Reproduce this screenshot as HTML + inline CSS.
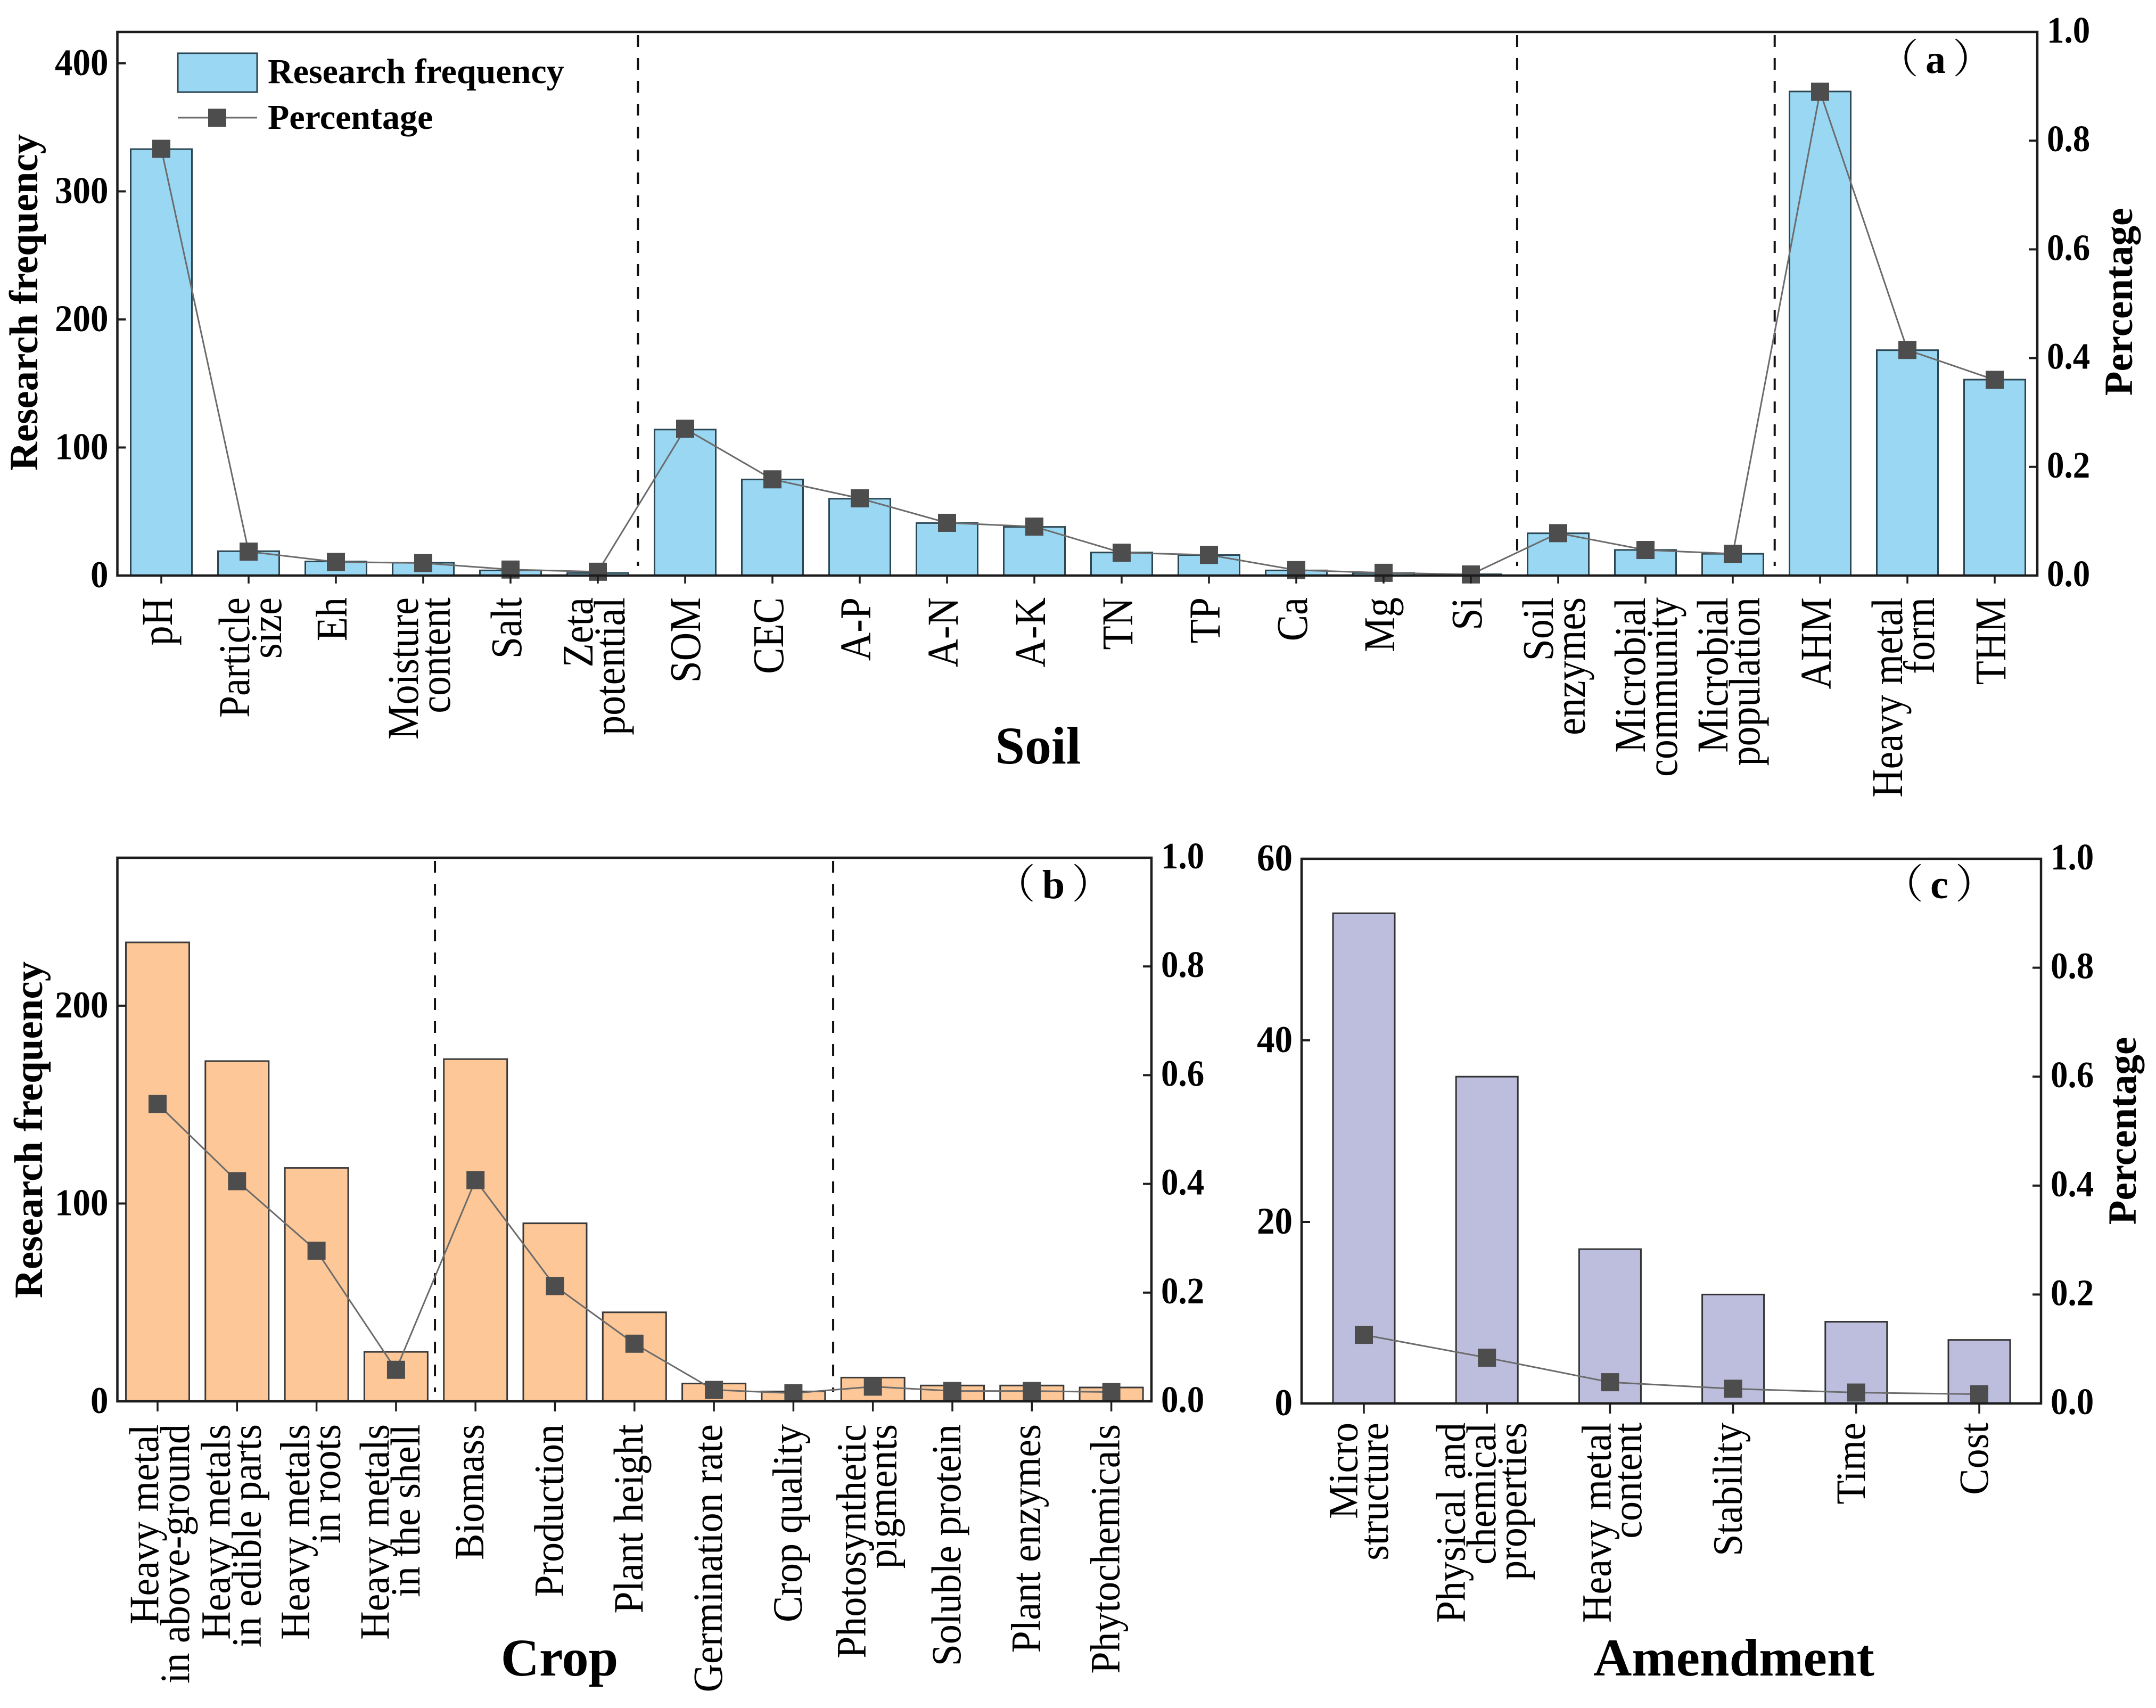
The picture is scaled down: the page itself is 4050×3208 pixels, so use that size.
<!DOCTYPE html>
<html lang="en">
<head>
<meta charset="utf-8">
<title>Research frequency and percentage for soil, crop and amendment</title>
<style>
html,body{margin:0;padding:0;background:#fff;}
svg{display:block;}
text{font-family:"Liberation Serif","Noto Serif CJK SC",serif;fill:#000;}
</style>
</head>
<body>
<svg id="chart" xmlns="http://www.w3.org/2000/svg" width="4050" height="3208" viewBox="0 0 4050 3208"></svg>
<script>
/* ---------- data ---------- */
const soilCategories = ["pH","Particle\nsize","Eh","Moisture\ncontent","Salt","Zeta\npotential","SOM","CEC","A-P","A-N","A-K","TN","TP","Ca","Mg","Si","Soil\nenzymes","Microbial\ncommunity","Microbial\npopulation","AHM","Heavy metal\nform","THM"];
const soilFrequency = [333,19,11,10,4,2,114,75,60,41,38,18,16,4,2,1,33,20,17,378,176,153];
const soilPercentage = [0.785,0.044,0.025,0.023,0.011,0.007,0.27,0.177,0.142,0.097,0.09,0.042,0.038,0.01,0.005,0.002,0.078,0.047,0.04,0.89,0.415,0.36];
const soilLeftTicks = [0,100,200,300,400];
const soilBreaks = [5.46,15.53,18.48];

const cropCategories = ["Heavy metal\nin above-ground","Heavy metals\nin edible parts","Heavy metals\nin roots","Heavy metals\nin the shell","Biomass","Production","Plant height","Germination rate","Crop quality","Photosynthetic\npigments","Soluble protein","Plant enzymes","Phytochemicals"];
const cropFrequency = [232,172,118,25,173,90,45,9,5,12,8,8,7];
const cropPercentage = [0.547,0.405,0.277,0.058,0.407,0.212,0.106,0.021,0.015,0.027,0.019,0.019,0.017];
const cropLeftTicks = [0,100,200];
const cropBreaks = [3.49,8.5];

const amendmentCategories = ["Micro\nstructure","Physical and\nchemical\nproperties","Heavy metal\ncontent","Stability","Time","Cost"];
const amendmentFrequency = [54,36,17,12,9,7];
const amendmentPercentage = [0.126,0.084,0.039,0.027,0.02,0.017];
const amendmentLeftTicks = [0,20,40,60];
const amendmentBreaks = [];

const percentageTicks = [0,0.2,0.4,0.6,0.8,1.0];

/* ---------- helpers ---------- */
/* hand-placed label offsets seen in the figure (layout, not data) */
const labelNudge = {
  "Particle\nsize": 11,
  "SOM": 8,
  "Microbial\ncommunity": 9,
  "Heavy metal\nin above-ground": 15,
  "Heavy metal\ncontent": 14
};
const svg = document.getElementById('chart');
const NS = 'http://www.w3.org/2000/svg';
function mk(tag, attrs, parent) {
  const el = document.createElementNS(NS, tag);
  for (const k in attrs) el.setAttribute(k, attrs[k]);
  parent.appendChild(el);
  return el;
}
function slug(s) {
  return s.toLowerCase().replace(/[^a-z0-9]+/g, '-').replace(/^-|-$/g, '');
}
const INK = '#1c1c1c';
const MARK = '#4d4d4d';
const LINE = '#6b6b6b';

function drawPanel(p) {
  const g = mk('g', {}, svg);
  
  

  const xPos = i => p.x0 + p.step * i;
  const yLeft = v => p.bottom - (v / p.leftMax) * (p.bottom - p.top);
  const yRight = v => p.bottom - v * (p.bottom - p.top);

  /* bars */
  p.freq.forEach((v, i) => {
    const bar = mk('rect', {
      x: xPos(i) - p.barW / 2, y: yLeft(v), width: p.barW, height: p.bottom - yLeft(v),
      fill: p.fill, stroke: p.barStroke, 'stroke-width': 3
    }, g);
    
    
  });

  /* group dividers */
  p.breaks.forEach(b => {
    const d = mk('line', {
      x1: xPos(b), x2: xPos(b), y1: p.top + 6, y2: p.bottom - 18,
      stroke: '#111', 'stroke-width': 4, 'stroke-dasharray': '22 21'
    }, g);
    
    
  });

  /* percentage line */
  const pts = p.pct.map((v, i) => xPos(i) + ',' + yRight(v)).join(' ');
  const ln = mk('polyline', {points: pts, fill: 'none', stroke: LINE, 'stroke-width': 3}, g);
  
  

  p.pct.forEach((v, i) => {
    const m = mk('rect', {x: xPos(i) - 17, y: yRight(v) - 17, width: 34, height: 34, fill: MARK}, g);
    
    
  });

  /* frame */
  const frame = mk('rect', {
    x: p.left, y: p.top, width: p.right - p.left, height: p.bottom - p.top,
    fill: 'none', stroke: INK, 'stroke-width': 4.5
  }, g);
  
  

  /* left axis */
  p.leftTicks.forEach(v => {
    const t = mk('line', {x1: p.left, x2: p.left + 16, y1: yLeft(v), y2: yLeft(v), stroke: INK, 'stroke-width': 4}, g);
    
    
    const tx = mk('text', {
      'font-size': 67, 'font-weight': 'bold', 'text-anchor': 'end',
      transform: 'translate(' + (p.left - 17) + ' ' + (yLeft(v) + 22) + ') scale(1 1.06)'
    }, g);
    tx.textContent = String(v);
    
    
  });

  /* right axis */
  percentageTicks.forEach(v => {
    const t = mk('line', {x1: p.right - 16, x2: p.right, y1: yRight(v), y2: yRight(v), stroke: INK, 'stroke-width': 4}, g);
    
    
    const tx = mk('text', {
      'font-size': 65, 'font-weight': 'bold',
      transform: 'translate(' + (p.right + 18) + ' ' + (yRight(v) + 20) + ') scale(1 1.08)'
    }, g);
    tx.textContent = v.toFixed(1);
    
    
  });

  /* x axis */
  p.cats.forEach((c, i) => {
    const x = xPos(i);
    const t = mk('line', {x1: x, x2: x, y1: p.bottom, y2: p.bottom + p.tickLen, stroke: INK, 'stroke-width': 3.5}, g);
    
    
    const lines = c.split('\n');
    lines.forEach((txt, k) => {
      const off = (k - (lines.length - 1) / 2) * p.lineGap + p.labelShift + (labelNudge[c] || 0);
      const lx = x + off;
      const tx = mk('text', {
        'font-size': 74, 'text-anchor': 'end',
        transform: 'translate(' + lx + ' ' + p.labelTop + ') rotate(-90) scale(1 ' + p.labelStretch + ')'
      }, g);
      tx.textContent = txt;
      
      
    });
  });

  /* x title */
  const xt = mk('text', {x: p.titleX, y: p.titleY, 'font-size': 100, 'font-weight': 'bold', 'text-anchor': 'middle'}, g);
  xt.textContent = p.title;
  
  

  /* y titles */
  if (p.leftTitle) {
    const yt = mk('text', {
      x: p.leftTitle.x, y: p.leftTitle.y, 'font-size': 75, 'font-weight': 'bold', 'text-anchor': 'middle',
      transform: 'rotate(-90 ' + p.leftTitle.x + ' ' + p.leftTitle.y + ')'
    }, g);
    yt.textContent = 'Research frequency';
    
    
  }
  if (p.rightTitle) {
    const yt = mk('text', {
      x: p.rightTitle.x, y: p.rightTitle.y, 'font-size': 75, 'font-weight': 'bold', 'text-anchor': 'middle',
      transform: 'rotate(-90 ' + p.rightTitle.x + ' ' + p.rightTitle.y + ')'
    }, g);
    yt.textContent = 'Percentage';
    
    
  }

  /* panel tag */
  const tag = mk('text', {x: p.tagX, y: p.tagY, 'font-size': 76, 'text-anchor': 'middle'}, g);
  const t1 = mk('tspan', {}, tag); t1.textContent = '（';
  const t2 = mk('tspan', {'font-weight': 'bold', dx: 13}, tag); t2.textContent = p.key;
  const t3 = mk('tspan', {dx: 13}, tag); t3.textContent = '）';
  
  
}

drawPanel({
  key: 'a', cats: soilCategories, freq: soilFrequency, pct: soilPercentage, leftTicks: soilLeftTicks, breaks: soilBreaks,
  left: 220.5, right: 3827, top: 60, bottom: 1081, leftMax: 424.5,
  x0: 303, step: 164, barW: 115, fill: '#99d7f3', barStroke: '#2c4753',
  tickLen: 15, labelTop: 1122, lineGap: 60, labelShift: 20, labelStretch: 1.12,
  title: 'Soil', titleX: 1950, titleY: 1434,
  leftTitle: {x: 70, y: 568}, rightTitle: {x: 4005, y: 567},
  tagX: 3636, tagY: 137
});
drawPanel({
  key: 'b', cats: cropCategories, freq: cropFrequency, pct: cropPercentage, leftTicks: cropLeftTicks, breaks: cropBreaks,
  left: 220.5, right: 2163, top: 1611, bottom: 2632, leftMax: 274.8,
  x0: 296, step: 149.3, barW: 119, fill: '#fdc797', barStroke: '#3a3a3a',
  tickLen: 19, labelTop: 2675, lineGap: 58, labelShift: 15, labelStretch: 1.06,
  title: 'Crop', titleX: 1051, titleY: 3147,
  leftTitle: {x: 79, y: 2122}, rightTitle: null,
  tagX: 1979, tagY: 1687
});
drawPanel({
  key: 'c', cats: amendmentCategories, freq: amendmentFrequency, pct: amendmentPercentage, leftTicks: amendmentLeftTicks, breaks: amendmentBreaks,
  left: 2445, right: 3834, top: 1613, bottom: 2636, leftMax: 60,
  x0: 2562, step: 231.2, barW: 116, fill: '#bdbedd', barStroke: '#333333',
  tickLen: 19, labelTop: 2672, lineGap: 57.5, labelShift: 16, labelStretch: 1.06,
  title: 'Amendment', titleX: 3257, titleY: 3147,
  leftTitle: null, rightTitle: {x: 4012, y: 2124},
  tagX: 3643, tagY: 1687
});

/* legend */
const legend = mk('g', {}, svg);


const legSwatch = mk('rect', {x: 334, y: 100, width: 149, height: 73, fill: '#99d7f3', stroke: '#2c4753', 'stroke-width': 3}, legend);


const legText1 = mk('text', {x: 503, y: 156, 'font-size': 66, 'font-weight': 'bold'}, legend);
legText1.textContent = 'Research frequency';


const legLine = mk('line', {x1: 334, x2: 483, y1: 221, y2: 221, stroke: LINE, 'stroke-width': 3}, legend);


const legMark = mk('rect', {x: 391, y: 204, width: 34, height: 34, fill: MARK}, legend);


const legText2 = mk('text', {x: 503, y: 242, 'font-size': 66, 'font-weight': 'bold'}, legend);
legText2.textContent = 'Percentage';


</script>
</body>
</html>
